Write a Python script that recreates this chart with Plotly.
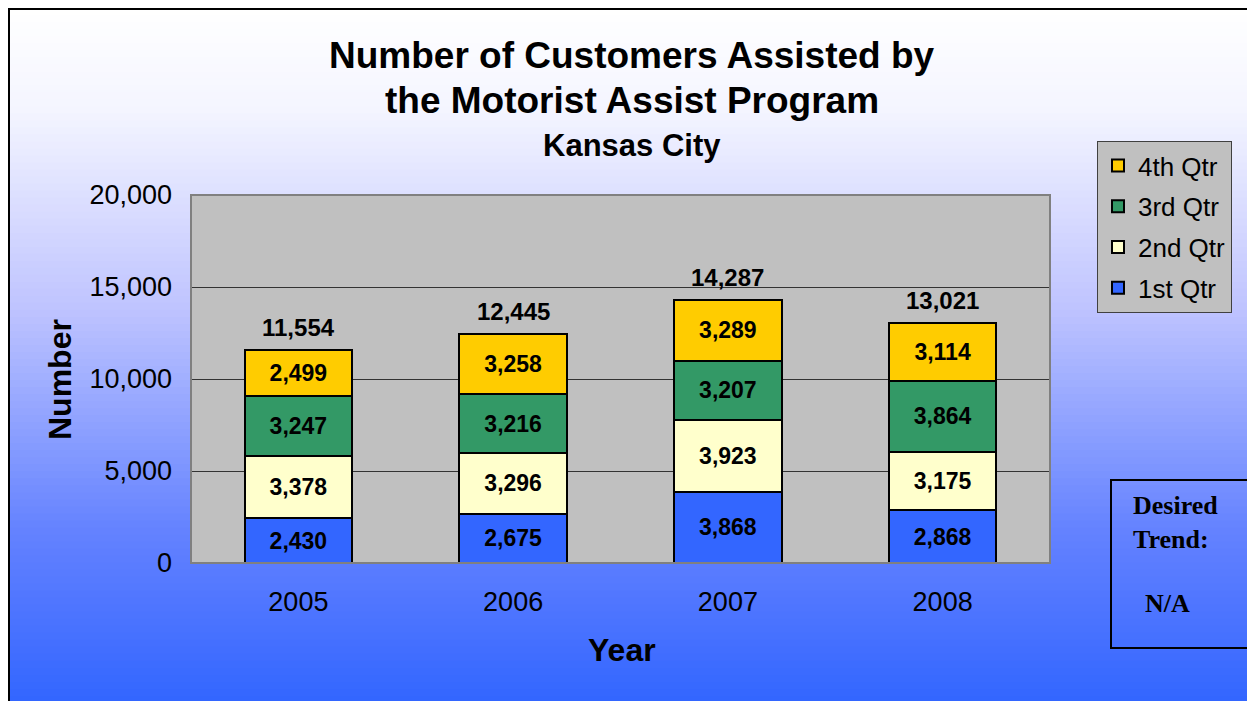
import plotly.graph_objects as go

years = ["2005", "2006", "2007", "2008"]
q1 = [2430, 2675, 3868, 2868]
q2 = [3378, 3296, 3923, 3175]
q3 = [3247, 3216, 3207, 3864]
q4 = [2499, 3258, 3289, 3114]
totals = [11554, 12445, 14287, 13021]
series_names = ["1st Qtr", "2nd Qtr", "3rd Qtr", "4th Qtr"]
series_colors = ["#3366FF", "#FFFFCC", "#339966", "#FFCC00"]
y_ticks = [0, 5000, 10000, 15000, 20000]

OFF = 8  # page body margin
W, H = 1255 - OFF, 701 - OFF
# plot area in reference (screen) pixels
L, R, T, B = 191, 1050, 195, 563

def px(x):
    return (x - L) / (R - L)

def py(y):
    return (B - y) / (B - T)

fig = go.Figure()
ranks = [4, 3, 2, 1]
for name, vals, col, rk in zip(series_names, [q1, q2, q3, q4], series_colors, ranks):
    fig.add_trace(go.Bar(
        x=years, y=vals, name=name, legendgroup=name, legendrank=rk,
        marker=dict(color=col, line=dict(color="black", width=2)),
        width=0.5,
        text=[f"<b>{v:,}</b>" for v in vals],
        textposition="inside", insidetextanchor="middle", textangle=0,
        textfont=dict(family="Arial, Liberation Sans", size=23, color="black"),
        constraintext="none",
    ))

for i, t in enumerate(totals):
    fig.add_annotation(x=i, y=t, xref="x", yref="y", text=f"<b>{t:,}</b>",
                       showarrow=False, yanchor="middle", yshift=23,
                       font=dict(family="Arial, Liberation Sans", size=24, color="black"))

# gradient background strips
stops = [(8, (255, 255, 255)), (110, (244, 245, 255)), (310, (190, 195, 255)),
         (430, (140, 160, 255)), (530, (100, 130, 255)), (701, (51, 102, 255))]

def col_at(y):
    for (y0, c0), (y1, c1) in zip(stops[:-1], stops[1:]):
        if y0 <= y <= y1:
            f = (y - y0) / (y1 - y0)
            return "rgb(%d,%d,%d)" % tuple(round(a + (b - a) * f) for a, b in zip(c0, c1))
    return "rgb(%d,%d,%d)" % stops[-1][1]

shapes = []
N = 100
top, bot = 8, 710
step = (bot - top) / N
for i in range(N):
    y0 = top + i * step
    y1 = y0 + step + 0.8
    shapes.append(dict(type="rect", xref="paper", yref="paper", layer="below",
                       x0=px(0), x1=px(1270), y0=py(y1), y1=py(y0),
                       line=dict(width=0), fillcolor=col_at(y0 + step / 2)))
# plot area fill
shapes.append(dict(type="rect", xref="paper", yref="paper", layer="below",
                   x0=0, x1=1, y0=0, y1=1, line=dict(width=0), fillcolor="#C0C0C0"))
# outer frame
shapes.append(dict(type="rect", xref="paper", yref="paper", layer="below",
                   x0=px(9), x1=px(1280), y0=py(720), y1=py(9),
                   line=dict(color="black", width=2), fillcolor="rgba(0,0,0,0)"))
# plot area border
shapes.append(dict(type="rect", xref="paper", yref="paper", layer="above",
                   x0=0, x1=1, y0=0, y1=1,
                   line=dict(color="#808080", width=2), fillcolor="rgba(0,0,0,0)"))
# desired trend box
shapes.append(dict(type="rect", xref="paper", yref="paper", layer="above",
                   x0=px(1111), x1=px(1280), y0=py(648), y1=py(480),
                   line=dict(color="black", width=2), fillcolor="rgba(0,0,0,0)"))

annots = [
    dict(x=px(632), y=py(55), text="<b>Number of Customers Assisted by</b>",
         font=dict(size=37)),
    dict(x=px(632), y=py(100), text="<b>the Motorist Assist Program</b>",
         font=dict(size=37)),
    dict(x=px(632), y=py(145), text="<b>Kansas City</b>", font=dict(size=31)),
    dict(x=px(60), y=py(380), text="<b>Number</b>", textangle=-90, font=dict(size=32)),
    dict(x=px(622), y=py(650), text="<b>Year</b>", font=dict(size=32)),
    dict(x=px(1131), y=py(522), text="<b>Desired<br>Trend:</b>", xanchor="left",
         align="left", font=dict(family="Liberation Serif, Times New Roman", size=26)),
    dict(x=px(1143), y=py(603), text="<b>N/A</b>", xanchor="left",
         font=dict(family="Liberation Serif, Times New Roman", size=26)),
]
for a in annots:
    a.setdefault("xanchor", "center")
    a.update(xref="paper", yref="paper", showarrow=False, yanchor="middle")
    f = a["font"]
    f.setdefault("family", "Arial, Liberation Sans")
    f["color"] = "black"
    fig.add_annotation(**a)

fig.update_layout(
    width=W, height=H,
    margin=dict(l=L - OFF, r=W - (R - OFF), t=T - OFF, b=H - (B - OFF), pad=0),
    paper_bgcolor="white", plot_bgcolor="#C0C0C0",
    barmode="stack",
    shapes=shapes,
    font=dict(family="Arial, Liberation Sans", size=26, color="black"),
    legend=dict(x=px(1097), y=py(141), xanchor="left", yanchor="top",
                bgcolor="#C0C0C0", bordercolor="#404040", borderwidth=1,
                traceorder="grouped", tracegroupgap=4, itemwidth=30,
                font=dict(family="Arial, Liberation Sans", size=26, color="black")),
    showlegend=True,
)
fig.update_xaxes(type="category", range=[-0.5, 3.5], autorange=False,
                 showgrid=False, ticks="", ticklabelstandoff=20,
                 tickfont=dict(size=27), showline=False)
fig.update_yaxes(range=[0, 20000], autorange=False, tickvals=y_ticks, tickformat=",",
                 showgrid=True, gridcolor="#333333", gridwidth=1, zeroline=False,
                 ticks="", ticklabelstandoff=18, tickfont=dict(size=27))

fig.write_html("out.html")
